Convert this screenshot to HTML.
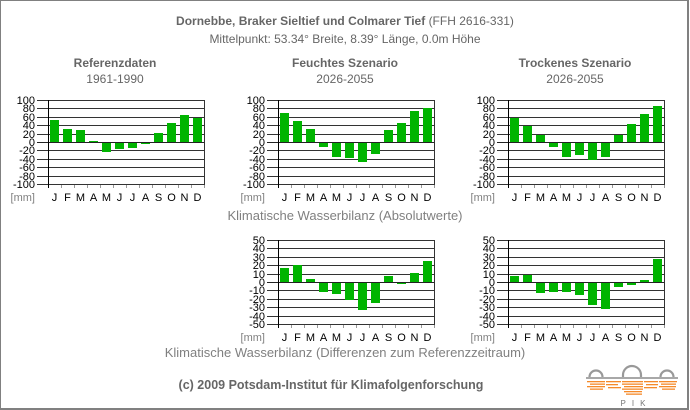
<!DOCTYPE html>
<html><head><meta charset="utf-8"><style>
html,body{margin:0;padding:0;background:#fff;}
svg{display:block;font-family:"Liberation Sans",Arial,sans-serif;}
.yl{font-size:11px;fill:#000;text-anchor:end;}
.ml{font-size:11px;fill:#000;text-anchor:middle;}
.mm{font-size:11px;fill:#808080;text-anchor:end;}
.hd{font-size:12px;font-weight:bold;fill:#666;text-anchor:middle;}
.sb{font-size:12px;fill:#666;text-anchor:middle;}
.cap{font-size:13px;fill:#808080;text-anchor:middle;}
</style></head><body>
<svg width="690" height="410" viewBox="0 0 690 410" xmlns="http://www.w3.org/2000/svg" shape-rendering="crispEdges">
<rect x="0" y="0" width="690" height="410" fill="#fff"/>
<rect x="0" y="0" width="689" height="1" fill="#808080"/>
<rect x="0" y="0" width="1" height="410" fill="#808080"/>
<rect x="687" y="0" width="2" height="410" fill="#808080"/>
<rect x="0" y="408" width="689" height="2" fill="#808080"/>

<text x="345" y="25" class="hd">Dornebbe, Braker Sieltief und Colmarer Tief <tspan font-weight="normal">(FFH 2616-331)</tspan></text>
<text x="345" y="43" class="sb">Mittelpunkt: 53.34° Breite, 8.39° Länge, 0.0m Höhe</text>
<text x="115" y="67" class="hd">Referenzdaten</text>
<text x="115" y="83" class="sb">1961-1990</text>
<text x="345" y="67" class="hd">Feuchtes Szenario</text>
<text x="345" y="83" class="sb">2026-2055</text>
<text x="575" y="67" class="hd">Trockenes Szenario</text>
<text x="575" y="83" class="sb">2026-2055</text>

<defs>
<g id="grid">
<rect x="-11" y="100" width="167" height="1" fill="#333"/>
<rect x="-11" y="108" width="167" height="1" fill="#333"/>
<rect x="-11" y="117" width="167" height="1" fill="#333"/>
<rect x="-11" y="125" width="167" height="1" fill="#333"/>
<rect x="-11" y="134" width="167" height="1" fill="#333"/>
<rect x="-11" y="150" width="167" height="1" fill="#333"/>
<rect x="-11" y="159" width="167" height="1" fill="#333"/>
<rect x="-11" y="167" width="167" height="1" fill="#333"/>
<rect x="-11" y="176" width="167" height="1" fill="#333"/>
<rect x="-11" y="184" width="167" height="1" fill="#333"/>
<rect x="13" y="185" width="1" height="3" fill="#999"/>
<rect x="26" y="185" width="1" height="3" fill="#999"/>
<rect x="39" y="185" width="1" height="3" fill="#999"/>
<rect x="52" y="185" width="1" height="3" fill="#999"/>
<rect x="65" y="185" width="1" height="3" fill="#999"/>
<rect x="78" y="185" width="1" height="3" fill="#999"/>
<rect x="91" y="185" width="1" height="3" fill="#999"/>
<rect x="104" y="185" width="1" height="3" fill="#999"/>
<rect x="117" y="185" width="1" height="3" fill="#999"/>
<rect x="130" y="185" width="1" height="3" fill="#999"/>
<rect x="143" y="185" width="1" height="3" fill="#999"/>
<rect x="156" y="185" width="1" height="3" fill="#999"/>
</g>
<g id="axes">
<rect x="-11" y="142" width="167" height="1" fill="#222"/>
<rect x="0" y="100" width="1" height="88" fill="#000"/>
<rect x="156" y="100" width="1" height="85" fill="#333"/>
</g>
</defs>

<g transform="translate(48,0)">
<use href="#grid"/>
<g fill="#00b400">
<rect x="2" y="120" width="9" height="22"/>
<rect x="15" y="129" width="9" height="13"/>
<rect x="28" y="130" width="9" height="12"/>
<rect x="41" y="141" width="9" height="1"/>
<rect x="54" y="143" width="9" height="9"/>
<rect x="67" y="143" width="9" height="6"/>
<rect x="80" y="143" width="9" height="5"/>
<rect x="93" y="143" width="9" height="1"/>
<rect x="106" y="133" width="9" height="9"/>
<rect x="119" y="123" width="9" height="19"/>
<rect x="132" y="115" width="9" height="27"/>
<rect x="145" y="118" width="9" height="24"/>
</g>
<use href="#axes"/>
</g>
<g>
<text class="yl" x="35" y="104">100</text>
<text class="yl" x="35" y="112">80</text>
<text class="yl" x="35" y="121">60</text>
<text class="yl" x="35" y="129">40</text>
<text class="yl" x="35" y="138">20</text>
<text class="yl" x="35" y="146">0</text>
<text class="yl" x="35" y="154">-20</text>
<text class="yl" x="35" y="163">-40</text>
<text class="yl" x="35" y="171">-60</text>
<text class="yl" x="35" y="180">-80</text>
<text class="yl" x="35" y="188">-100</text>
<text class="mm" x="35" y="201">[mm]</text>
<text class="ml" x="54.5" y="201">J</text>
<text class="ml" x="67.5" y="201">F</text>
<text class="ml" x="80.5" y="201">M</text>
<text class="ml" x="93.5" y="201">A</text>
<text class="ml" x="106.5" y="201">M</text>
<text class="ml" x="119.5" y="201">J</text>
<text class="ml" x="132.5" y="201">J</text>
<text class="ml" x="145.5" y="201">A</text>
<text class="ml" x="158.5" y="201">S</text>
<text class="ml" x="171.5" y="201">O</text>
<text class="ml" x="184.5" y="201">N</text>
<text class="ml" x="197.5" y="201">D</text>
</g>

<g transform="translate(278,0)">
<use href="#grid"/>
<g fill="#00b400">
<rect x="2" y="113" width="9" height="29"/>
<rect x="15" y="121" width="9" height="21"/>
<rect x="28" y="129" width="9" height="13"/>
<rect x="41" y="143" width="9" height="4"/>
<rect x="54" y="143" width="9" height="14"/>
<rect x="67" y="143" width="9" height="15"/>
<rect x="80" y="143" width="9" height="19"/>
<rect x="93" y="143" width="9" height="11"/>
<rect x="106" y="130" width="9" height="12"/>
<rect x="119" y="123" width="9" height="19"/>
<rect x="132" y="111" width="9" height="31"/>
<rect x="145" y="108" width="9" height="34"/>
</g>
<use href="#axes"/>
</g>
<g>
<text class="yl" x="265" y="104">100</text>
<text class="yl" x="265" y="112">80</text>
<text class="yl" x="265" y="121">60</text>
<text class="yl" x="265" y="129">40</text>
<text class="yl" x="265" y="138">20</text>
<text class="yl" x="265" y="146">0</text>
<text class="yl" x="265" y="154">-20</text>
<text class="yl" x="265" y="163">-40</text>
<text class="yl" x="265" y="171">-60</text>
<text class="yl" x="265" y="180">-80</text>
<text class="yl" x="265" y="188">-100</text>
<text class="mm" x="265" y="201">[mm]</text>
<text class="ml" x="284.5" y="201">J</text>
<text class="ml" x="297.5" y="201">F</text>
<text class="ml" x="310.5" y="201">M</text>
<text class="ml" x="323.5" y="201">A</text>
<text class="ml" x="336.5" y="201">M</text>
<text class="ml" x="349.5" y="201">J</text>
<text class="ml" x="362.5" y="201">J</text>
<text class="ml" x="375.5" y="201">A</text>
<text class="ml" x="388.5" y="201">S</text>
<text class="ml" x="401.5" y="201">O</text>
<text class="ml" x="414.5" y="201">N</text>
<text class="ml" x="427.5" y="201">D</text>
</g>

<g transform="translate(508,0)">
<use href="#grid"/>
<g fill="#00b400">
<rect x="2" y="118" width="9" height="24"/>
<rect x="15" y="126" width="9" height="16"/>
<rect x="28" y="135" width="9" height="7"/>
<rect x="41" y="143" width="9" height="4"/>
<rect x="54" y="143" width="9" height="14"/>
<rect x="67" y="143" width="9" height="12"/>
<rect x="80" y="143" width="9" height="17"/>
<rect x="93" y="143" width="9" height="14"/>
<rect x="106" y="135" width="9" height="7"/>
<rect x="119" y="124" width="9" height="18"/>
<rect x="132" y="114" width="9" height="28"/>
<rect x="145" y="106" width="9" height="36"/>
</g>
<use href="#axes"/>
</g>
<g>
<text class="yl" x="495" y="104">100</text>
<text class="yl" x="495" y="112">80</text>
<text class="yl" x="495" y="121">60</text>
<text class="yl" x="495" y="129">40</text>
<text class="yl" x="495" y="138">20</text>
<text class="yl" x="495" y="146">0</text>
<text class="yl" x="495" y="154">-20</text>
<text class="yl" x="495" y="163">-40</text>
<text class="yl" x="495" y="171">-60</text>
<text class="yl" x="495" y="180">-80</text>
<text class="yl" x="495" y="188">-100</text>
<text class="mm" x="495" y="201">[mm]</text>
<text class="ml" x="514.5" y="201">J</text>
<text class="ml" x="527.5" y="201">F</text>
<text class="ml" x="540.5" y="201">M</text>
<text class="ml" x="553.5" y="201">A</text>
<text class="ml" x="566.5" y="201">M</text>
<text class="ml" x="579.5" y="201">J</text>
<text class="ml" x="592.5" y="201">J</text>
<text class="ml" x="605.5" y="201">A</text>
<text class="ml" x="618.5" y="201">S</text>
<text class="ml" x="631.5" y="201">O</text>
<text class="ml" x="644.5" y="201">N</text>
<text class="ml" x="657.5" y="201">D</text>
</g>

<text class="cap" x="345" y="220">Klimatische Wasserbilanz (Absolutwerte)</text>

<g transform="translate(278,140)">
<use href="#grid"/>
<g fill="#00b400">
<rect x="2" y="128" width="9" height="14"/>
<rect x="15" y="125" width="9" height="17"/>
<rect x="28" y="139" width="9" height="3"/>
<rect x="41" y="143" width="9" height="9"/>
<rect x="54" y="143" width="9" height="11"/>
<rect x="67" y="143" width="9" height="17"/>
<rect x="80" y="143" width="9" height="27"/>
<rect x="93" y="143" width="9" height="20"/>
<rect x="106" y="136" width="9" height="6"/>
<rect x="119" y="143" width="9" height="1"/>
<rect x="132" y="133" width="9" height="9"/>
<rect x="145" y="121" width="9" height="21"/>
</g>
<use href="#axes"/>
</g>
<g>
<text class="yl" x="265" y="244">50</text>
<text class="yl" x="265" y="252">40</text>
<text class="yl" x="265" y="261">30</text>
<text class="yl" x="265" y="269">20</text>
<text class="yl" x="265" y="278">10</text>
<text class="yl" x="265" y="286">0</text>
<text class="yl" x="265" y="294">-10</text>
<text class="yl" x="265" y="303">-20</text>
<text class="yl" x="265" y="311">-30</text>
<text class="yl" x="265" y="320">-40</text>
<text class="yl" x="265" y="328">-50</text>
<text class="mm" x="265" y="341">[mm]</text>
<text class="ml" x="284.5" y="341">J</text>
<text class="ml" x="297.5" y="341">F</text>
<text class="ml" x="310.5" y="341">M</text>
<text class="ml" x="323.5" y="341">A</text>
<text class="ml" x="336.5" y="341">M</text>
<text class="ml" x="349.5" y="341">J</text>
<text class="ml" x="362.5" y="341">J</text>
<text class="ml" x="375.5" y="341">A</text>
<text class="ml" x="388.5" y="341">S</text>
<text class="ml" x="401.5" y="341">O</text>
<text class="ml" x="414.5" y="341">N</text>
<text class="ml" x="427.5" y="341">D</text>
</g>

<g transform="translate(508,140)">
<use href="#grid"/>
<g fill="#00b400">
<rect x="2" y="136" width="9" height="6"/>
<rect x="15" y="135" width="9" height="7"/>
<rect x="28" y="143" width="9" height="10"/>
<rect x="41" y="143" width="9" height="9"/>
<rect x="54" y="143" width="9" height="9"/>
<rect x="67" y="143" width="9" height="12"/>
<rect x="80" y="143" width="9" height="22"/>
<rect x="93" y="143" width="9" height="26"/>
<rect x="106" y="143" width="9" height="4"/>
<rect x="119" y="143" width="9" height="2"/>
<rect x="132" y="140" width="9" height="2"/>
<rect x="145" y="119" width="9" height="23"/>
</g>
<use href="#axes"/>
</g>
<g>
<text class="yl" x="495" y="244">50</text>
<text class="yl" x="495" y="252">40</text>
<text class="yl" x="495" y="261">30</text>
<text class="yl" x="495" y="269">20</text>
<text class="yl" x="495" y="278">10</text>
<text class="yl" x="495" y="286">0</text>
<text class="yl" x="495" y="294">-10</text>
<text class="yl" x="495" y="303">-20</text>
<text class="yl" x="495" y="311">-30</text>
<text class="yl" x="495" y="320">-40</text>
<text class="yl" x="495" y="328">-50</text>
<text class="mm" x="495" y="341">[mm]</text>
<text class="ml" x="514.5" y="341">J</text>
<text class="ml" x="527.5" y="341">F</text>
<text class="ml" x="540.5" y="341">M</text>
<text class="ml" x="553.5" y="341">A</text>
<text class="ml" x="566.5" y="341">M</text>
<text class="ml" x="579.5" y="341">J</text>
<text class="ml" x="592.5" y="341">J</text>
<text class="ml" x="605.5" y="341">A</text>
<text class="ml" x="618.5" y="341">S</text>
<text class="ml" x="631.5" y="341">O</text>
<text class="ml" x="644.5" y="341">N</text>
<text class="ml" x="657.5" y="341">D</text>
</g>

<text class="cap" x="345" y="357">Klimatische Wasserbilanz (Differenzen zum Referenzzeitraum)</text>

<text x="331" y="389" style="font-size:12.5px;font-weight:bold;fill:#666;text-anchor:middle;">(c) 2009 Potsdam-Institut für Klimafolgenforschung</text>

<g shape-rendering="geometricPrecision">
<path d="M589.5 377 A6.5 6.5 0 0 1 602.5 377" fill="none" stroke="#999" stroke-width="2.2"/>
<path d="M623 377 L623 375 A9 9 0 0 1 641 375 L641 377" fill="none" stroke="#999" stroke-width="2.2"/>
<path d="M660.5 377 A6.5 6.5 0 0 1 673.5 377" fill="none" stroke="#999" stroke-width="2.2"/>
<rect x="586" y="377" width="92" height="2" fill="#a8a8a8"/>
<g fill="#f58a2a">
<rect x="587" y="381" width="18" height="1.3"/>
<rect x="590" y="383.5" width="15" height="1.3"/>
<rect x="587" y="386" width="18" height="1.3"/>
<rect x="590" y="388.5" width="13" height="1.3"/>
<rect x="606" y="381" width="15" height="1.3"/>
<rect x="606" y="384" width="12" height="1.3"/>
<rect x="608" y="387" width="13" height="1.3"/>
<rect x="622" y="381" width="21" height="1.3"/>
<rect x="622" y="383.5" width="21" height="1.3"/>
<rect x="624" y="386" width="19" height="1.3"/>
<rect x="622" y="388.5" width="21" height="1.3"/>
<rect x="624" y="391" width="18" height="1.3"/>
<rect x="626" y="393.5" width="16" height="1.3"/>
<rect x="644" y="381" width="14" height="1.3"/>
<rect x="646" y="384" width="12" height="1.3"/>
<rect x="644" y="387" width="13" height="1.3"/>
<rect x="659" y="381" width="18" height="1.3"/>
<rect x="661" y="383.5" width="15" height="1.3"/>
<rect x="659" y="386" width="17" height="1.3"/>
<rect x="662" y="388.5" width="13" height="1.3"/>
</g>
<text x="636" y="406" style="font-size:8px;fill:#777;text-anchor:middle;letter-spacing:6px;">PIK</text>
</g>
</svg>
</body></html>
